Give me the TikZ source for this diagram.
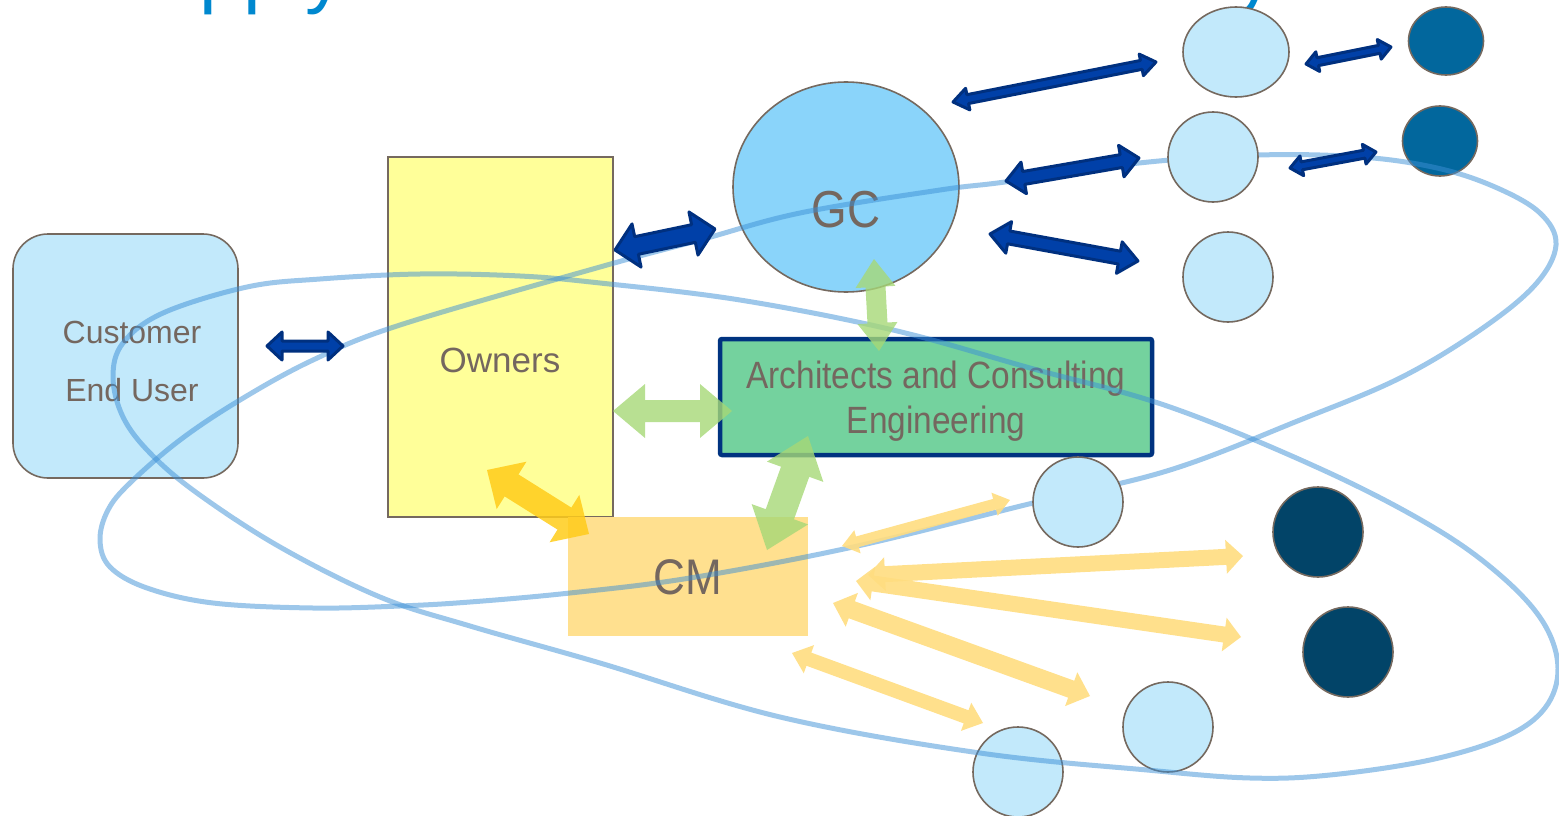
\documentclass[tikz,border=0pt]{standalone}
\usepackage{fontspec}
\setmainfont{Liberation Sans}
\newfontfamily\narrowsans[FakeStretch=0.88]{Liberation Sans}
\usetikzlibrary{calc,shapes.geometric}

\definecolor{titleblue}{HTML}{0088CF}
\definecolor{labelgray}{HTML}{74675F}
\definecolor{edgegray}{HTML}{75695F}
\definecolor{paleblue}{HTML}{C2E9FB}
\definecolor{ownyellow}{HTML}{FFFF99}
\definecolor{gcblue}{HTML}{8AD4FA}
\definecolor{acegreen}{HTML}{74D29E}
\definecolor{acenavy}{HTML}{003380}
\definecolor{cmorange}{HTML}{FFE08F}
\definecolor{tealdot}{HTML}{02679D}
\definecolor{navydot}{HTML}{024468}
\definecolor{arrnavy}{HTML}{0040A8}
\definecolor{arrnavyedge}{HTML}{00307F}
\definecolor{arrgreen}{HTML}{A6D877}
\definecolor{arrgold}{HTML}{FFCC1A}
\definecolor{arrsand}{HTML}{FFDD80}
\definecolor{loopblue}{HTML}{3C8FD6}

% double block arrow: #1 style, #2/#3 the two tips,
% #4 half shaft width, #5 half head width, #6 head length
\newcommand{\blockarr}[6]{%
  \path[#1] (#2)
    -- ($(#2)!#6!(#3)!#5!90:(#3)$)
    -- ($(#2)!#6!(#3)!#4!90:(#3)$)
    -- ($(#3)!#6!(#2)!#4!-90:(#2)$)
    -- ($(#3)!#6!(#2)!#5!-90:(#2)$)
    -- (#3)
    -- ($(#3)!#6!(#2)!#5!90:(#2)$)
    -- ($(#3)!#6!(#2)!#4!90:(#2)$)
    -- ($(#2)!#6!(#3)!#4!-90:(#3)$)
    -- ($(#2)!#6!(#3)!#5!-90:(#3)$)
    -- cycle;}

\tikzset{
  lbl/.style={text=labelgray, inner sep=0pt},
  ringdot/.style={ellipse, draw=edgegray, line width=1.6pt, inner sep=0pt},
  palecirc/.style={ringdot, fill=paleblue},
  tealcirc/.style={ringdot, fill=tealdot},
  navycirc/.style={ringdot, fill=navydot},
  loopline/.style={draw=loopblue, draw opacity=0.5, line width=5pt},
  navyarrow/.style={fill=arrnavy, draw=arrnavyedge, line width=3pt, line join=round},
  greenarrow/.style={fill=arrgreen, fill opacity=0.8},
  goldarrow/.style={fill=arrgold, fill opacity=0.85},
  sandarrow/.style={fill=arrsand, fill opacity=0.9},
}

\begin{document}
\begin{tikzpicture}[x=1pt, y=-1pt]
\useasboundingbox (0,0) rectangle (1559,816);
\clip (0,0) rectangle (1559,816);

% heading (runs off the top edge)
\node[anchor=base west, inner sep=0pt, text=titleblue,
      font=\fontsize{79}{79}\selectfont] (heading) at (103,-1)
      {Supply Chain in the AEC Industry};

% main parties
\node[draw=edgegray, line width=1.6pt, fill=paleblue, rounded corners=35pt,
      minimum width=225pt, minimum height=244pt] (cust) at (125.5,356) {};
\node[lbl, align=center, font=\fontsize{32}{58}\selectfont] (custtext) at (132,361)
      {Customer\\End User};

\node[draw=edgegray, line width=1.4pt, fill=ownyellow,
      minimum width=225pt, minimum height=360pt] (own) at (500.5,337) {};
\node[lbl, font=\fontsize{35}{35}\selectfont] (owntext) at (500,360) {Owners};

\node[ringdot, fill=gcblue, minimum width=226pt, minimum height=210pt] (gc) at (846,187) {};
\node[lbl, font=\narrowsans\fontsize{52}{52}\selectfont] (gctext) at (846,210) {GC};

\node[draw=acenavy, line width=4.5pt, fill=acegreen, rounded corners=2pt,
      minimum width=432pt, minimum height=116pt] (ace) at (936,397) {};
\node[lbl, align=center, font=\narrowsans\fontsize{38}{45}\selectfont] (acetext) at (936,401)
      {Architects and Consulting\\Engineering};

\node[fill=cmorange, minimum width=240pt, minimum height=119pt] (cm) at (688,576.5) {};
\node[lbl, font=\narrowsans\fontsize{50}{50}\selectfont] (cmtext) at (688,577) {CM};

% outer parties
\node[palecirc, minimum width=106pt, minimum height=90pt] (c1) at (1236,52) {};
\node[palecirc, minimum width=90pt, minimum height=90pt] (c3) at (1228,277) {};
\node[palecirc, minimum width=90pt, minimum height=90pt] (c5) at (1168,727) {};
\node[palecirc, minimum width=90pt, minimum height=90pt] (c6) at (1018,772) {};
\node[tealcirc, minimum width=75pt, minimum height=68pt] (d1) at (1446,41) {};
\node[tealcirc, minimum width=75pt, minimum height=70pt] (d2) at (1440,141) {};
\node[navycirc, minimum width=90pt, minimum height=90pt] (n1) at (1318,532) {};
\node[navycirc, minimum width=90pt, minimum height=90pt] (n2) at (1348,652) {};

% the two loops
\draw[loopline] plot[smooth cycle, tension=0.6] coordinates {
  (100,540) (108,510) (130,483) (180,440) (240,400) (313,360) (400,325)
  (600,267) (700,240) (800,213) (940,190) (1005,182) (1139,163) (1258,155)
  (1361,157) (1437,168) (1495,187) (1540,213) (1556,245) (1535,285)
  (1480,330) (1400,378) (1300,420) (1170,470) (1033,503) (853,547)
  (690,578) (570,593) (470,602) (400,606) (313,608) (213,603) (147,588)
  (110,567)};
\draw[loopline] plot[smooth cycle, tension=0.6] coordinates {
  (113,377) (123,343) (163,313) (247,287) (320,279) (420,274) (520,276)
  (600,283) (740,300) (893,330) (1030,368) (1170,407) (1323,470)
  (1433,527) (1500,575) (1543,622) (1558,668) (1545,708) (1505,737)
  (1430,760) (1330,775) (1250,778) (1147,770) (980,753) (780,717)
  (600,663) (470,626) (380,597) (280,547) (197,493) (150,453) (123,417)};

\node[palecirc, minimum width=90pt, minimum height=90pt] (c2) at (1213,157) {};
\node[palecirc, minimum width=90pt, minimum height=90pt] (c4) at (1078,502) {};

% arrow tips
\coordinate (a1s) at (267,346);  \coordinate (a1e) at (343,346);
\coordinate (a2s) at (615,250);  \coordinate (a2e) at (715,229);
\coordinate (a3s) at (953,102);  \coordinate (a3e) at (1156,62);
\coordinate (a4s) at (1306,64);  \coordinate (a4e) at (1391,47);
\coordinate (a5s) at (1006,181); \coordinate (a5e) at (1139,158);
\coordinate (a6s) at (1290,168); \coordinate (a6e) at (1376,152);
\coordinate (a7s) at (990,234);  \coordinate (a7e) at (1138,261);
\coordinate (g1s) at (874,259);  \coordinate (g1e) at (879,351);
\coordinate (g2s) at (613,411);  \coordinate (g2e) at (732,411);
\coordinate (g3s) at (808,436);  \coordinate (g3e) at (767,550);
\coordinate (gds) at (487,470);  \coordinate (gde) at (589,534);
\coordinate (y1s) at (842,546);  \coordinate (y1e) at (1010,500);
\coordinate (y2s) at (868,575);  \coordinate (y2e) at (1243,556);
\coordinate (y3s) at (856,581);  \coordinate (y3e) at (1241,637);
\coordinate (y4s) at (833,603);  \coordinate (y4e) at (1090,696);
\coordinate (y5s) at (792,653);  \coordinate (y5e) at (983,723);

% navy links
\blockarr{navyarrow}{a1s}{a1e}{5pt}{14pt}{15pt}
\blockarr{navyarrow}{a2s}{a2e}{9pt}{22pt}{22pt}
\blockarr{navyarrow}{a3s}{a3e}{4.5pt}{11pt}{15pt}
\blockarr{navyarrow}{a4s}{a4e}{4pt}{10pt}{12pt}
\blockarr{navyarrow}{a5s}{a5e}{6.5pt}{16pt}{18pt}
\blockarr{navyarrow}{a6s}{a6e}{4pt}{10pt}{12pt}
\blockarr{navyarrow}{a7s}{a7e}{6.5pt}{16pt}{19pt}

% design team links
\blockarr{greenarrow}{g1s}{g1e}{10pt}{20pt}{28pt}
\blockarr{greenarrow}{g2s}{g2e}{11pt}{27pt}{32pt}
\blockarr{greenarrow}{g3s}{g3e}{15pt}{30pt}{38pt}

% owner to CM
\blockarr{goldarrow}{gds}{gde}{13pt}{28pt}{29pt}

% CM links
\blockarr{sandarrow}{y1s}{y1e}{5.5pt}{12pt}{16pt}
\blockarr{sandarrow}{y2s}{y2e}{8pt}{17pt}{17pt}
\blockarr{sandarrow}{y3s}{y3e}{8pt}{17pt}{17pt}
\blockarr{sandarrow}{y4s}{y4e}{9pt}{18pt}{20pt}
\blockarr{sandarrow}{y5s}{y5e}{7pt}{15pt}{18pt}
\end{tikzpicture}
\end{document}
